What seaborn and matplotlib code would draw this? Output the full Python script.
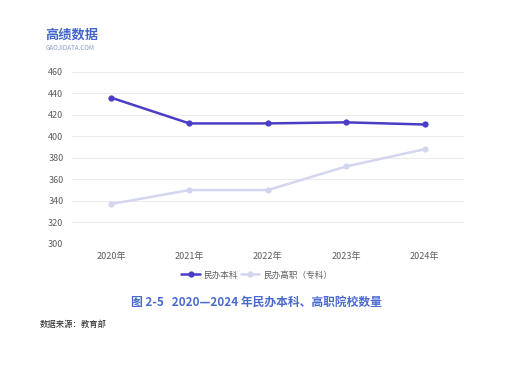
import matplotlib.pyplot as plt
import pandas as pd
import seaborn as sns

years = ["2020年", "2021年", "2022年", "2023年", "2024年"]
undergrad = [436, 412, 412, 413, 411]
vocational = [337, 350, 350, 372, 388]
series_names = ["民办本科", "民办高职（专科）"]
colors = ["#4B3EC6", "#D3D6EF"]
y_ticks = [300, 320, 340, 360, 380, 400, 420, 440, 460]

df = pd.concat([
    pd.DataFrame({"年份": years, "数量": undergrad, "类型": series_names[0]}),
    pd.DataFrame({"年份": years, "数量": vocational, "类型": series_names[1]}),
])

sns.set_style("white")
plt.rcParams["font.family"] = ["Noto Sans CJK SC", "DejaVu Sans"]

fig = plt.figure(figsize=(5.13, 3.84), dpi=100)
ax = fig.add_axes([0.140, 0.365, 0.764, 0.448])

sns.lineplot(data=df, x="年份", y="数量", hue="类型", palette=colors,
             marker="o", markersize=4.5, markeredgewidth=0, linewidth=1.8,
             sort=False, ax=ax)

ax.set_ylim(300, 460)
ax.set_yticks(y_ticks)
ax.set_xlim(-0.5, 4.5)
ax.grid(axis="y", color="#EBEBEB", linewidth=0.8)
ax.set_axisbelow(True)
for s in ax.spines.values():
    s.set_visible(False)
ax.tick_params(axis="both", length=0, labelsize=6.5, colors="#5E5E5E", pad=6)
ax.set_xlabel("")
ax.set_ylabel("")

ax.get_legend().remove()
handles, labels = ax.get_legend_handles_labels()
fig.legend(handles, labels, loc="center", bbox_to_anchor=(0.5, 0.284), ncol=2,
           frameon=False, fontsize=6.2, handlelength=2.2, handletextpad=0.4,
           columnspacing=0.3, labelcolor="#5E5E5E")

fig.text(0.088, 0.900, "高绩数据", fontsize=9.5, fontweight="bold", color="#4466CC")
fig.text(0.088, 0.871, "GAOJIDATA.COM", fontsize=4.5, color="#8A9ACB")
fig.text(0.5, 0.203, "图 2-5   2020—2024 年民办本科、高职院校数量",
         ha="center", fontsize=8.5, fontweight="bold", color="#4A6AD0")
fig.text(0.078, 0.148, "数据来源：教育部", fontsize=6.0, color="#222222")

fig.savefig("out.png", dpi=100)
